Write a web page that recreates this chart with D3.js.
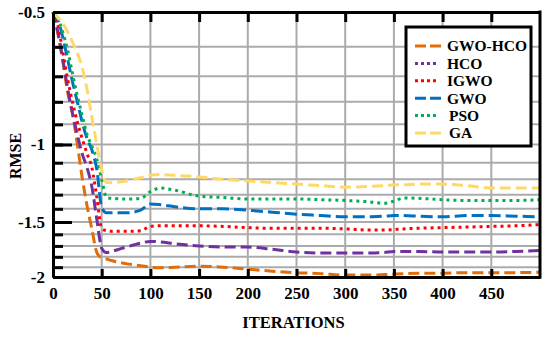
<!DOCTYPE html>
<html>
<head>
<meta charset="utf-8">
<script src="https://cdn.jsdelivr.net/npm/d3@7"></script>
</head>
<body style="margin:0">
<div id="chart"></div>
<script>
// Values (RMSE, log-like axis)
const iterations = [0, 5, 10, 15, 20, 25, 30, 35, 40, 45, 50, 55, 60, 75, 90, 100, 110, 125, 150, 175,
  200, 225, 250, 275, 300, 325, 340, 350, 360, 375, 400, 425, 450, 475, 500];

const gwoHco = [-0.5, -0.56, -0.645, -0.76, -0.85, -1.0, -1.19, -1.38, -1.56, -1.76, -1.81, -1.82, -1.835, -1.865, -1.885, -1.9, -1.905, -1.9, -1.89, -1.9,
  -1.92, -1.94, -1.955, -1.965, -1.98, -1.98, -1.975, -1.97, -1.965, -1.96, -1.96, -1.955, -1.955, -1.955, -1.95];
const hco = [-0.5, -0.555, -0.64, -0.745, -0.85, -0.95, -1.05, -1.13, -1.25, -1.48, -1.72, -1.76, -1.75, -1.71, -1.675, -1.66, -1.665, -1.68, -1.70, -1.71,
  -1.71, -1.73, -1.755, -1.765, -1.765, -1.765, -1.76, -1.75, -1.75, -1.75, -1.755, -1.755, -1.755, -1.75, -1.74];
const igwo = [-0.5, -0.535, -0.615, -0.71, -0.80, -0.89, -0.97, -1.05, -1.13, -1.32, -1.55, -1.57, -1.575, -1.575, -1.57, -1.535, -1.53, -1.53, -1.53, -1.535,
  -1.545, -1.55, -1.55, -1.55, -1.555, -1.565, -1.565, -1.56, -1.555, -1.55, -1.545, -1.54, -1.535, -1.53, -1.52];
const gwo = [-0.5, -0.52, -0.57, -0.64, -0.72, -0.80, -0.89, -0.97, -1.03, -1.14, -1.39, -1.43, -1.43, -1.43, -1.41, -1.365, -1.37, -1.385, -1.40, -1.40,
  -1.41, -1.425, -1.44, -1.45, -1.46, -1.46, -1.455, -1.45, -1.45, -1.455, -1.46, -1.45, -1.45, -1.455, -1.46];
const pso = [-0.5, -0.516, -0.555, -0.61, -0.69, -0.775, -0.86, -0.95, -1.01, -1.08, -1.2, -1.32, -1.325, -1.33, -1.325, -1.28, -1.256, -1.27, -1.31, -1.32,
  -1.33, -1.33, -1.33, -1.335, -1.34, -1.35, -1.36, -1.345, -1.323, -1.325, -1.335, -1.34, -1.34, -1.34, -1.335];
const ga = [-0.5, -0.515, -0.53, -0.555, -0.585, -0.62, -0.67, -0.75, -0.87, -1.0, -1.14, -1.22, -1.22, -1.21, -1.19, -1.175, -1.17, -1.175, -1.185, -1.2,
  -1.21, -1.22, -1.23, -1.24, -1.25, -1.245, -1.24, -1.235, -1.235, -1.23, -1.23, -1.24, -1.255, -1.255, -1.255];

const seriesNames = ["GWO-HCO", "HCO", "IGWO", "GWO", "PSO", "GA"];

// Tick labels and grid values
const xTicks = [0, 50, 100, 150, 200, 250, 300, 350, 400, 450];
const yMajorTicks = [-0.5, -1, -1.5, -2];
const yMinorTicks = [-0.6, -0.7, -0.8, -0.9, -1, -1.1, -1.2, -1.3, -1.4, -1.5, -1.6, -1.7, -1.8, -1.9];

// === Chart ===
function createChart() {
  const width = 550, height = 339;
  const left = 53, right = 540, top = 12, bottom = 277;

  d3.select("#chart").selectAll("*").remove();

  const svg = d3.select("#chart")
    .append("svg")
    .attr("width", width)
    .attr("height", height);

  const x = d3.scaleLinear().domain([0, 500]).range([left, right]);
  const y = d3.scaleLog().domain([-0.5, -2]).range([top, bottom]);

  // grid
  svg.append("g")
    .selectAll("line")
    .data(xTicks.slice(1))
    .enter()
    .append("line")
    .attr("x1", d => x(d)).attr("x2", d => x(d))
    .attr("y1", top).attr("y2", bottom)
    .attr("stroke", "#ababab")
    .attr("stroke-width", 2);

  svg.append("g")
    .selectAll("line")
    .data(yMinorTicks)
    .enter()
    .append("line")
    .attr("x1", left).attr("x2", right)
    .attr("y1", d => y(d)).attr("y2", d => y(d))
    .attr("stroke", "#ababab")
    .attr("stroke-width", 2);

  // series lines
  const styles = [
    { data: gwoHco, color: "#e36c0a", dash: "11,5", legendDash: "11,4", len: 27 },
    { data: hco, color: "#7030a0", dash: "11,5", legendDash: "3,3", len: 23 },
    { data: igwo, color: "#ff0000", dash: "3,4", legendDash: "3,3", len: 23 },
    { data: gwo, color: "#0070c0", dash: "12,5", legendDash: "11,4", len: 27 },
    { data: pso, color: "#00b050", dash: "3,4", legendDash: "3,3", len: 23 },
    { data: ga, color: "#ffd966", dash: "11,5", legendDash: "11,4", len: 27 }
  ];

  const line = d3.line()
    .x((d, i) => x(iterations[i]))
    .y(d => y(d))
    .curve(d3.curveMonotoneX);

  styles.forEach(s => {
    svg.append("path")
      .datum(s.data)
      .attr("fill", "none")
      .attr("stroke", s.color)
      .attr("stroke-width", 3)
      .attr("stroke-dasharray", s.dash)
      .attr("d", line);
  });

  // axes
  svg.append("g")
    .attr("transform", `translate(0,${bottom})`)
    .call(d3.axisBottom(x).tickValues(xTicks).tickSize(-8).tickSizeOuter(0).tickPadding(10))
    .selectAll("text").style("font-size", "17px");

  svg.append("g")
    .attr("transform", `translate(0,${top})`)
    .call(d3.axisTop(x).tickValues(xTicks.slice(1)).tickSize(-10).tickSizeOuter(0).tickFormat(""));

  svg.append("g")
    .attr("transform", `translate(${left},0)`)
    .call(d3.axisLeft(y).tickValues(yMinorTicks).tickSize(-10).tickSizeOuter(0).tickFormat(""));

  svg.append("g")
    .attr("transform", `translate(${left},0)`)
    .call(d3.axisLeft(y).tickValues(yMajorTicks).tickSize(-19).tickSizeOuter(0).tickPadding(8).tickFormat(d => String(d)))
    .selectAll("text").style("font-size", "17px");

  svg.selectAll(".tick line").attr("stroke", "#000").attr("stroke-width", 3);
  svg.selectAll(".domain").attr("stroke", "#000").attr("stroke-width", 3);

  // right border
  svg.append("line")
    .attr("x1", right).attr("x2", right)
    .attr("y1", top - 1.5).attr("y2", bottom + 1.5)
    .attr("stroke", "#000").attr("stroke-width", 3);

  // axis titles
  svg.append("text")
    .attr("x", (left + right) / 2 - 3)
    .attr("y", 328)
    .attr("text-anchor", "middle")
    .style("font-size", "16.5px")
    .text("ITERATIONS");

  svg.append("text")
    .attr("transform", "translate(21,156) rotate(-90)")
    .attr("text-anchor", "middle")
    .style("font-size", "16px")
    .text("RMSE");

  // legend
  const legend = svg.append("g");
  legend.append("rect")
    .attr("x", 406).attr("y", 27)
    .attr("width", 125).attr("height", 119)
    .attr("fill", "#fff")
    .attr("stroke", "#000")
    .attr("stroke-width", 3);

  const rowY = d3.scalePoint().domain(seriesNames).range([46, 133]);

  styles.forEach((s, i) => {
    const yy = rowY(seriesNames[i]);
    legend.append("line")
      .attr("x1", 415).attr("x2", 415 + s.len)
      .attr("y1", yy).attr("y2", yy)
      .attr("stroke", s.color)
      .attr("stroke-width", 3)
      .attr("stroke-dasharray", s.legendDash);
    legend.append("text")
      .attr("x", i >= 4 ? 449 : 447)
      .attr("y", yy)
      .attr("dy", "0.35em")
      .style("font-size", "15.5px")
      .text(seriesNames[i]);
  });

  // serif bold text everywhere
  svg.selectAll("text")
    .style("font-family", "Liberation Serif")
    .style("font-weight", "bold")
    .style("fill", "#000");
}

createChart();
</script>
</body>
</html>
